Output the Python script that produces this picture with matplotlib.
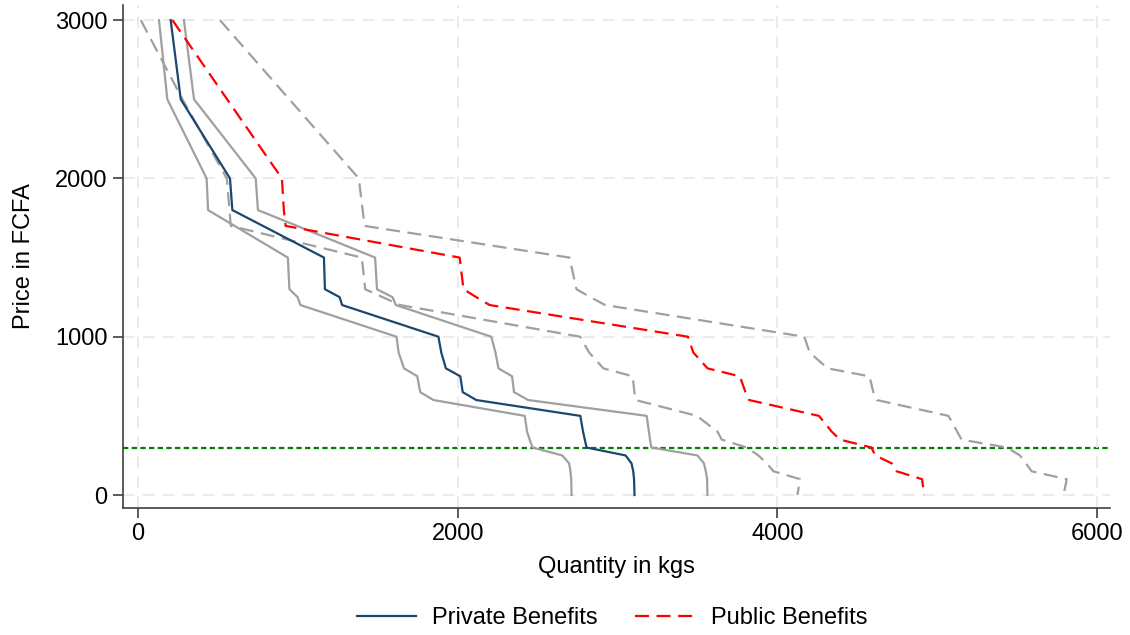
import matplotlib
matplotlib.use("Agg")
import matplotlib.pyplot as plt

plt.rcParams['font.family'] = ['Liberation Sans', 'DejaVu Sans']

# price levels (FCFA) shared by all demand curves
price = [3000, 2500, 2000, 1800, 1700, 1500, 1300, 1250, 1200, 1000, 900, 800,
         750, 650, 600, 500, 400, 350, 300, 250, 200, 150, 100, 0]

# quantities (kgs)
private = [204, 267, 575, 590, 781, 1163, 1169, 1261, 1277, 1879, 1897, 1926,
           2016, 2031, 2116, 2767, 2784, 2795, 2806, 3050, 3087, 3098, 3103, 3106]
private_lo = [131, 183, 429, 438, 604, 937, 947, 998, 1016, 1617, 1630, 1664,
              1747, 1765, 1848, 2419, 2434, 2450, 2468, 2654, 2697, 2705, 2710, 2712]
private_hi = [287, 350, 736, 750, 995, 1483, 1495, 1592, 1613, 2210, 2236, 2255,
              2340, 2352, 2441, 3182, 3196, 3203, 3211, 3500, 3540, 3552, 3560, 3562]

public = [215, 557, 900, 912, 923, 2012, 2036, 2116, 2200, 3440, 3474, 3563,
          3765, 3800, 3823, 4260, 4340, 4392, 4588, 4612, 4715, 4746, 4905, 4918]
public_lo = [17, 278, 555, 572, 580, 1400, 1421, 1530, 1640, 2766, 2822, 2911,
             3095, 3105, 3113, 3496, 3625, 3652, 3808, 3881, 3934, 3975, 4142, 4125]
public_hi = [512, 946, 1381, 1405, 1417, 2699, 2743, 2830, 2922, 4168, 4202, 4314,
             4576, 4600, 4622, 5070, 5125, 5152, 5436, 5517, 5555, 5590, 5810, 5790]

cutoff = 300

fig = plt.figure(figsize=(11.3, 6.35), dpi=100, facecolor='white')
ax = fig.add_axes([0.1086, 0.2, 0.8736, 0.792])

# grid
ax.grid(True, linestyle=(0, (7, 5)), color='#e8e8e8', linewidth=1.2, zorder=0)

grey = '#a0a0a0'
lw = 1.6
dash = (0, (6.3, 3.4))
ax.plot(private_lo, price, color=grey, linewidth=lw, zorder=2)
ax.plot(private_hi, price, color=grey, linewidth=lw, zorder=2)
ax.plot(public_lo, price, color=grey, linewidth=lw, linestyle=dash, zorder=2)
ax.plot(public_hi, price, color=grey, linewidth=lw, linestyle=dash, zorder=2)
ax.plot(private, price, color='#1a476f', linewidth=lw, zorder=3, label='Private Benefits')
ax.plot(public, price, color='#ff0000', linewidth=lw, linestyle=dash, zorder=3, label='Public Benefits')
ax.axhline(cutoff, color='#008000', linewidth=1.6, linestyle=(0, (2.4, 1.5)), zorder=1)

ax.set_xlim(-96, 6080)
ax.set_ylim(-82, 3095)
ax.set_xticks([0, 2000, 4000, 6000])
ax.set_yticks([0, 1000, 2000, 3000])

for s in ['top', 'right']:
    ax.spines[s].set_visible(False)
for s in ['left', 'bottom']:
    ax.spines[s].set_color('#404040')
    ax.spines[s].set_linewidth(1.2)
ax.tick_params(axis='both', direction='out', length=7, width=1.2, color='#404040',
               labelsize=17, pad=4)

ax.set_xlabel('Quantity in kgs', fontsize=17, labelpad=8)
ax.set_ylabel('Price in FCFA', fontsize=17, labelpad=14)

fig.legend(loc='center', bbox_to_anchor=(0.5416, 0.027), ncol=2, frameon=False,
           fontsize=17, handlelength=2.5, handletextpad=0.7, columnspacing=1.6)

fig.savefig('out.png', dpi=100, facecolor='white')
